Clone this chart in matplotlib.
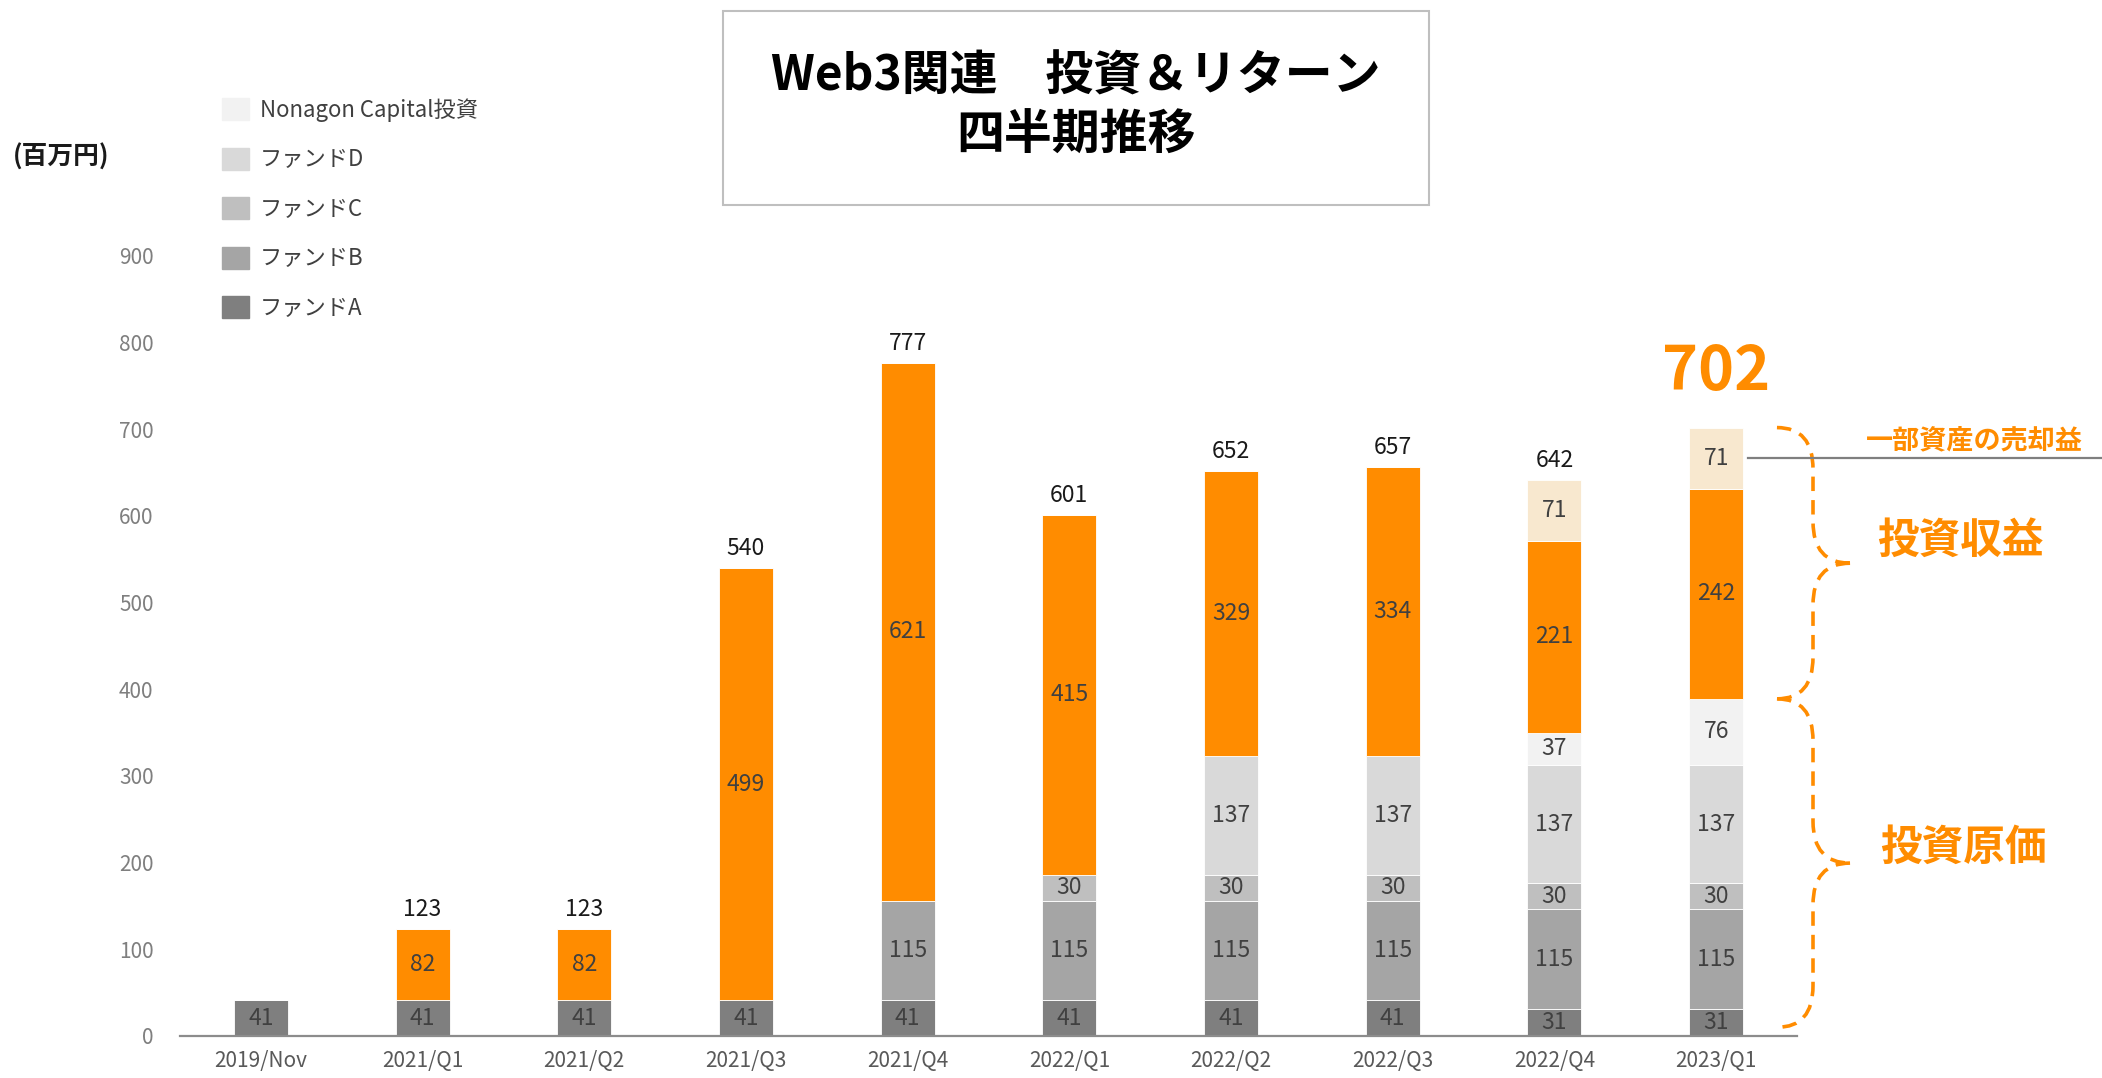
import numpy as np
import matplotlib
matplotlib.use('Agg')
import matplotlib.pyplot as plt
from matplotlib.path import Path
from matplotlib.patches import PathPatch, Patch, Rectangle

plt.rcParams['font.family'] = ['Noto Sans CJK JP', 'DejaVu Sans']

# data (百万円)
periods = ['2019/Nov', '2021/Q1', '2021/Q2', '2021/Q3', '2021/Q4',
           '2022/Q1', '2022/Q2', '2022/Q3', '2022/Q4', '2023/Q1']
fund_a = [41, 41, 41, 41, 41, 41, 41, 41, 31, 31]
fund_b = [0, 0, 0, 0, 115, 115, 115, 115, 115, 115]
fund_c = [0, 0, 0, 0, 0, 30, 30, 30, 30, 30]
fund_d = [0, 0, 0, 0, 0, 0, 137, 137, 137, 137]
nonagon = [0, 0, 0, 0, 0, 0, 0, 0, 37, 76]
returns = [0, 82, 82, 499, 621, 415, 329, 334, 221, 242]
sale_gain = [0, 0, 0, 0, 0, 0, 0, 0, 71, 71]
show_total = [False, True, True, True, True, True, True, True, True, False]

series = [
    ('ファンドA', fund_a, '#7f7f7f'),
    ('ファンドB', fund_b, '#a5a5a5'),
    ('ファンドC', fund_c, '#bfbfbf'),
    ('ファンドD', fund_d, '#d9d9d9'),
    ('Nonagon Capital投資', nonagon, '#f2f2f2'),
    ('投資収益', returns, '#ff8c00'),
    ('一部資産の売却益', sale_gain, '#f8e8cf'),
]
orange = '#ff8c00'

W, H = 2102, 1078
fig = plt.figure(figsize=(W / 100, H / 100), dpi=100)
ymax = 950
ax = fig.add_axes([180 / W, 1 - 1036 / H, 1617 / W, ymax * 0.8667 / H])

x = np.arange(len(periods))
bottom = np.zeros(len(periods))
handles = []
for name, vals, col in series:
    vals = np.array(vals, dtype=float)
    bars = ax.bar(x, vals, 0.334, bottom=bottom, color=col,
                  edgecolor='white', linewidth=0.6)
    for b, v, b0 in zip(bars, vals, bottom):
        if v > 0:
            ax.text(b.get_x() + b.get_width() / 2, b0 + v / 2, f'{int(v)}',
                    ha='center', va='center', fontsize=16.5, color='#404040')
    bottom += vals
    handles.append(Patch(color=col, label=name))

totals = bottom.copy()
for i, t in enumerate(totals):
    if show_total[i]:
        ax.annotate(f'{int(t)}', (x[i], t), xytext=(0, 14),
                    textcoords='offset points', ha='center', va='center',
                    fontsize=16.5, color='#1a1a1a')
ax.annotate(f'{int(totals[-1])}', (x[-1], totals[-1]), xytext=(0, 40),
            textcoords='offset points', ha='center', va='center',
            fontsize=44, fontweight='bold', color=orange)

ax.set_xlim(-0.5, len(periods) - 0.5)
ax.set_ylim(0, ymax)
ax.set_yticks(np.arange(0, 1000, 100))
ax.set_xticks(x)
ax.set_xticklabels(periods)
ax.tick_params(axis='y', length=0, pad=19, labelsize=15, labelcolor='#7f7f7f')
ax.tick_params(axis='x', length=0, pad=10, labelsize=15, labelcolor='#595959')
for s in ['top', 'right', 'left']:
    ax.spines[s].set_visible(False)
ax.spines['bottom'].set_color('#8c8c8c')
ax.spines['bottom'].set_linewidth(1.6)

# legend: fund / nonagon entries, top first
leg_handles = handles[:5][::-1]
fig.legend(handles=leg_handles, loc='upper left',
           bbox_to_anchor=(222 / W, 1 - 98 / H), frameon=False,
           fontsize=16, handlelength=1.2, handleheight=1.15,
           handletextpad=0.5, labelspacing=1.17, borderpad=0,
           borderaxespad=0, labelcolor='#404040')

fig.text(13 / W, 1 - 157 / H, '(百万円)', fontsize=18.5, fontweight='bold',
         ha='left', va='center', color='#1a1a1a')

# title box
fig.patches.append(Rectangle((723 / W, 1 - 205 / H), 706 / W, 194 / H,
                             transform=fig.transFigure, fill=False,
                             edgecolor='#bfbfbf', linewidth=1.5))
fig.text(1076 / W, 1 - 76 / H, 'Web3関連　投資＆リターン', fontsize=34.5,
         fontweight='bold', ha='center', va='center')
fig.text(1076 / W, 1 - 135 / H, '四半期推移', fontsize=34.5,
         fontweight='bold', ha='center', va='center')

# right side annotations
cost_top = totals[-1] - returns[-1] - sale_gain[-1]
line_y = totals[-1] - sale_gain[-1] / 2
ax.plot([9.2, 11.5], [line_y, line_y], color='#7f7f7f', lw=1.6,
        clip_on=False)
ax.text(9.2 + (1974 - 1748) / 161.7, line_y + 21, '一部資産の売却益',
        fontsize=19.5, fontweight='bold', color=orange, ha='center',
        va='center', clip_on=False)


def brace(y0, y1, x0=9.376, x1=9.599, x2=9.828, r=48):
    ym = (y0 + y1) / 2
    verts = [(x0, y1), (x1, y1), (x1, y1 - r),
             (x1, ym + r),
             (x1, ym), (x2, ym),
             (x2, ym), (x1, ym), (x1, ym - r),
             (x1, y0 + r),
             (x1, y0), (x0, y0)]
    codes = [Path.MOVETO, Path.CURVE3, Path.CURVE3,
             Path.LINETO,
             Path.CURVE3, Path.CURVE3,
             Path.MOVETO, Path.CURVE3, Path.CURVE3,
             Path.LINETO,
             Path.CURVE3, Path.CURVE3]
    ax.add_patch(PathPatch(Path(verts, codes), fill=False, edgecolor=orange,
                           lw=2.6, ls=(0, (4, 2.5)), clip_on=False))
    return ym


ym_top = brace(cost_top, totals[-1])
ym_bot = brace(10, cost_top)
ax.text(9.2 + (1960 - 1748) / 161.7, ym_top + 26, '投資収益', fontsize=30,
        fontweight='bold', color=orange, ha='center', va='center',
        clip_on=False)
ax.text(9.2 + (1963 - 1748) / 161.7, ym_bot + 18, '投資原価', fontsize=30,
        fontweight='bold', color=orange, ha='center', va='center',
        clip_on=False)

fig.savefig('out.png', dpi=100)
